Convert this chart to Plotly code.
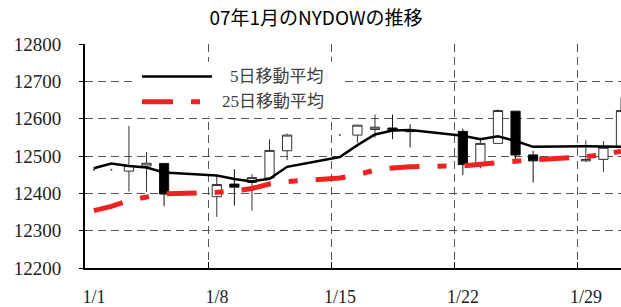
import pandas as pd
import plotly.graph_objects as go

# ---- data ----
trade_dates = ["2007-01-03", "2007-01-04", "2007-01-05",
               "2007-01-08", "2007-01-09", "2007-01-10", "2007-01-11", "2007-01-12",
               "2007-01-16", "2007-01-17", "2007-01-18", "2007-01-19",
               "2007-01-22", "2007-01-23", "2007-01-24", "2007-01-25", "2007-01-26",
               "2007-01-29", "2007-01-30", "2007-01-31"]
open_ = [12459.5, 12473.2, 12480.1, 12391.0, 12424.8, 12429.0, 12441.0, 12514.0,
         12556.0, 12571.0, 12575.0, 12567.9, 12566.0, 12476.0, 12533.8, 12620.0,
         12503.0, 12487.0, 12491.0, 12523.3]
high = [12580.4, 12510.4, 12480.1, 12447.0, 12464.8, 12451.0, 12545.0, 12560.0,
        12583.0, 12611.0, 12611.0, 12585.0, 12573.0, 12549.0, 12625.0, 12621.0,
        12513.6, 12542.0, 12540.0, 12656.0]
low = [12404.8, 12403.9, 12365.4, 12337.0, 12367.0, 12353.6, 12441.0, 12489.0,
       12536.0, 12549.0, 12545.0, 12523.0, 12449.0, 12467.0, 12533.0, 12487.0,
       12429.0, 12484.0, 12457.6, 12522.0]
close = [12474.5, 12480.7, 12398.0, 12423.5, 12416.6, 12442.2, 12515.0, 12556.1,
         12582.6, 12577.2, 12567.9, 12565.5, 12477.2, 12533.8, 12621.8, 12502.6,
         12487.0, 12490.8, 12523.3, 12621.7]

holiday_dates = ["2007-01-01", "2007-01-02", "2007-01-15"]
holiday_close = [12463.2, 12463.2, 12556.1]

weekday_dates = ["2007-01-01", "2007-01-02", "2007-01-03", "2007-01-04", "2007-01-05",
                 "2007-01-08", "2007-01-09", "2007-01-10", "2007-01-11", "2007-01-12",
                 "2007-01-15", "2007-01-16", "2007-01-17", "2007-01-18", "2007-01-19",
                 "2007-01-22", "2007-01-23", "2007-01-24", "2007-01-25", "2007-01-26",
                 "2007-01-29", "2007-01-30", "2007-01-31"]
ma5 = [12467.0, 12480.0, 12473.3, 12469.0, 12456.0,
       12448.0, 12438.5, 12432.0, 12439.0, 12471.0,
       12497.3, 12529.0, 12557.5, 12568.5, 12569.5,
       12554.0, 12545.0, 12553.0, 12540.2, 12524.5,
       12526.0, 12525.0, 12525.0]
ma25 = [12353.6, 12365.0, 12381.0, 12391.5, 12398.7,
        12402.7, 12406.0, 12413.0, 12425.0, 12431.5,
        12441.0, 12450.0, 12462.0, 12468.0, 12471.5,
        12473.6, 12478.0, 12482.7, 12487.0, 12490.0,
        12498.0, 12503.5, 12513.0]

tick_dates = ["2007-01-01", "2007-01-08", "2007-01-15", "2007-01-22", "2007-01-29"]
tick_labels = ["1/1", "1/8", "1/15", "1/22", "1/29"]

title_text = "07年1月のNYDOWの推移"
name_ma5 = "5日移動平均"
name_ma25 = "25日移動平均"

# ---- figure ----
half_day = pd.Timedelta(hours=12)
def mid(ds):
    return [pd.Timestamp(d) + half_day for d in ds]

W, H = 621, 307
ML, MR, MT, MB = 85, 0, 44, 37
PW, PH = W - ML - MR, H - MT - MB

def px_x(p):
    return (p - ML) / PW

def px_y(p):
    return (H - MB - p) / PH

SERIF = "Liberation Serif, Times New Roman, DejaVu Serif, serif"

fig = go.Figure()

fig.add_trace(go.Scatter(
    x=mid(weekday_dates), y=ma25, mode="lines", name=name_ma25,
    line=dict(color="#ee2222", width=5, dash="30px,18px,9px,18px"),
    showlegend=False))

fig.add_trace(go.Candlestick(
    x=mid(trade_dates), open=open_, high=high, low=low, close=close,
    increasing=dict(fillcolor="white", line=dict(color="#333333", width=1)),
    decreasing=dict(fillcolor="black", line=dict(color="#111111", width=1)),
    whiskerwidth=0, showlegend=False, name="NYDOW"))

fig.add_trace(go.Scatter(
    x=mid(holiday_dates), y=holiday_close, mode="markers",
    marker=dict(size=2, color="#444444"), showlegend=False, hoverinfo="skip"))

fig.add_trace(go.Scatter(
    x=mid(weekday_dates), y=ma5, mode="lines", name=name_ma5,
    line=dict(color="black", width=2.5), showlegend=False))

grid_col = "#555555"
fig.update_layout(
    width=W, height=H,
    margin=dict(l=ML, r=MR, t=MT, b=MB, pad=0),
    paper_bgcolor="white", plot_bgcolor="white",
    boxgap=0.25,
    title=dict(text=title_text, x=316 / W, xref="container", xanchor="center",
               y=1 - 18 / H, yref="container", yanchor="middle",
               font=dict(family="Noto Sans CJK JP", size=19, color="black")),
    xaxis=dict(
        type="date", range=["2007-01-01", "2007-01-31 12:00"],
        tickmode="array", tickvals=tick_dates, ticktext=tick_labels,
        ticks="inside", ticklen=6, tickwidth=1, tickcolor="black",
        ticklabelshift=9, ticklabelstandoff=11,
        tickfont=dict(family=SERIF, size=18, color="#222222"),
        showgrid=True, gridcolor=grid_col, gridwidth=1, griddash="8px,5px",
        showline=True, linecolor="black", linewidth=2,
        zeroline=False, rangeslider=dict(visible=False), fixedrange=True),
    yaxis=dict(
        range=[12200, 12800], dtick=100, tick0=12200, tickformat="d",
        ticks="outside", ticklen=4, tickwidth=1, tickcolor="black",
        ticklabelstandoff=14,
        tickfont=dict(family=SERIF, size=19, color="#222222"),
        showgrid=True, gridcolor=grid_col, gridwidth=1, griddash="8px,5px",
        showline=True, linecolor="black", linewidth=2,
        zeroline=False, fixedrange=True),
    showlegend=False,
)

# ---- legend (drawn manually to match long sample lines) ----
shapes = [
    dict(type="rect", xref="paper", yref="paper",
         x0=px_x(135), x1=px_x(345), y0=px_y(117), y1=px_y(62),
         fillcolor="white", line=dict(width=0), layer="above"),
    dict(type="line", xref="paper", yref="paper",
         x0=px_x(142), x1=px_x(212), y0=px_y(76.7), y1=px_y(76.7),
         line=dict(color="black", width=2.5), layer="above"),
    dict(type="line", xref="paper", yref="paper",
         x0=px_x(142), x1=px_x(200), y0=px_y(102.3), y1=px_y(102.3),
         line=dict(color="#ee2222", width=5, dash="31px,18px,9px,18px"), layer="above"),
]
fig.update_layout(shapes=shapes)

leg_font = dict(family="Liberation Serif, Noto Sans CJK JP", size=17, color="#404040")
fig.add_annotation(text=name_ma5, xref="paper", yref="paper",
                   x=px_x(326), y=px_y(76.7), xanchor="right", yanchor="middle",
                   showarrow=False, font=leg_font)
fig.add_annotation(text=name_ma25, xref="paper", yref="paper",
                   x=px_x(326), y=px_y(102.3), xanchor="right", yanchor="middle",
                   showarrow=False, font=leg_font)

fig.write_html("out.html", config={"displayModeBar": False},
               post_script="document.body.style.margin='0px';document.body.style.overflow='hidden';")
